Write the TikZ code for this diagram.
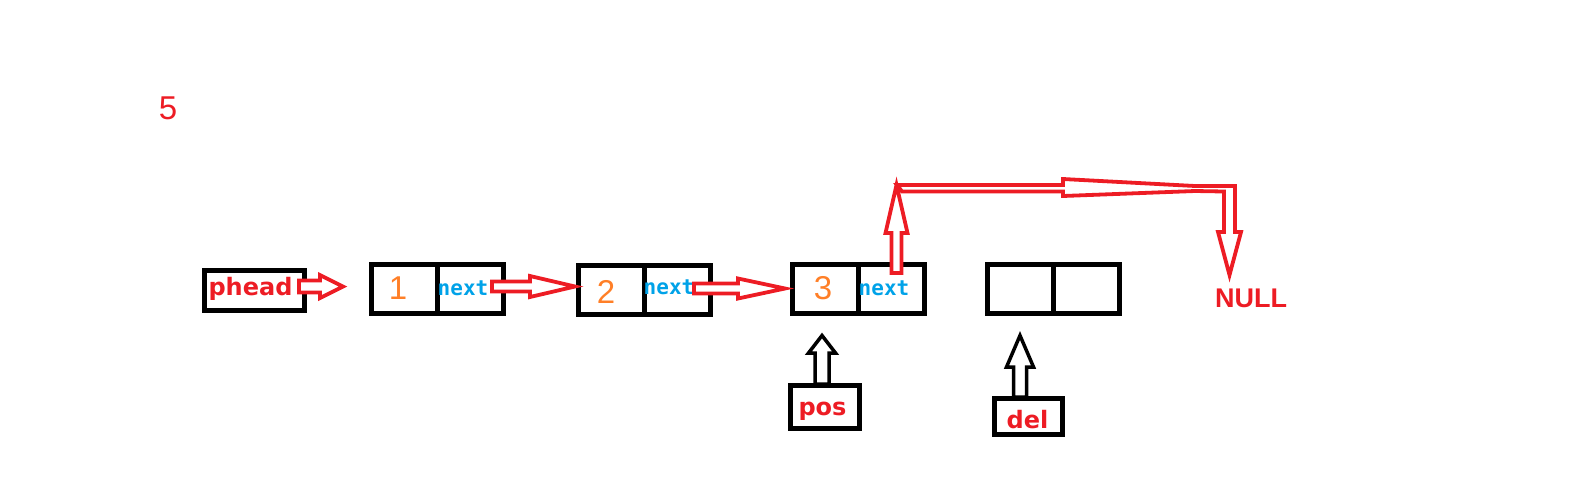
\documentclass[tikz,border=0pt]{standalone}
\usepackage{fontspec}
\newfontfamily\djv{DejaVu Sans}
\newfontfamily\djm{DejaVu Sans Mono}
\newfontfamily\lib{Liberation Sans}
\definecolor{pred}{RGB}{237,28,36}
\definecolor{porange}{RGB}{255,127,39}
\definecolor{pblue}{RGB}{0,162,232}
\tikzset{
  cell/.style={draw=black,line width=2.5pt,minimum width=33pt,minimum height=24.5pt,inner sep=0pt},
  ptrbox/.style={draw=black,line width=2.5pt,inner sep=0pt},
  lbl/.style={text=pred,font=\djv\bfseries\fontsize{12pt}{14pt}\selectfont,anchor=base,inner sep=0pt},
  num/.style={text=porange,font=\lib\fontsize{16.5pt}{18pt}\selectfont,anchor=base,inner sep=0pt},
  nxt/.style={text=pblue,font=\djm\bfseries\fontsize{10.5pt}{12pt}\selectfont,anchor=base,inner sep=0pt},
  nulltxt/.style={text=pred,font=\lib\bfseries\fontsize{13.5pt}{15pt}\selectfont,anchor=base,inner sep=0pt},
  rarr/.style={draw=pred,fill=white,line width=1.9pt,line join=miter},
  barr/.style={draw=black,fill=white,line width=1.75pt,line join=miter}
}
% right-pointing hollow arrow: x0, xbase, xtip, y, h, H
\newcommand\myrarrow[7]{\draw[#1] (#2,#5-#6) -- (#3,#5-#6) -- (#3,#5-#7) -- (#4,#5) -- (#3,#5+#7) -- (#3,#5+#6) -- (#2,#5+#6) -- cycle;}
% up-pointing hollow arrow: x, ybottom, ybase, ytip, h, H
\newcommand\myuarrow[7]{\draw[#1] (#2-#6,#3) -- (#2-#6,#4) -- (#2-#7,#4) -- (#2,#5) -- (#2+#7,#4) -- (#2+#6,#4) -- (#2+#6,#3) -- cycle;}
\begin{document}
\begin{tikzpicture}[x=0.5pt,y=-0.5pt]
\useasboundingbox (0,0) rectangle (1588,499);
% list nodes
\node[cell] (a1) at (404,289) {};
\node[cell] (b1) at (470,289) {};
\node[cell] (a2) at (611,289.5) {};
\node[cell] (b2) at (677,289.5) {};
\node[cell] (a3) at (825,289) {};
\node[cell] (b3) at (891,289) {};
\node[cell] (a4) at (1020,289) {};
\node[cell] (b4) at (1086,289) {};
% pointer boxes
\node[ptrbox,minimum width=50pt,minimum height=20pt] (pheadbox) at (254.5,290.5) {};
\node[ptrbox,minimum width=34.5pt,minimum height=21.5pt] (posbox) at (825,407) {};
\node[ptrbox,minimum width=34pt,minimum height=18pt] (delbox) at (1028.5,416.5) {};
% texts
\node[num,text=pred] (five) at (168,119) {5};
\node[lbl] (phead) at (250.5,295) {phead};
\node[num] (v1) at (398,299) {1};
\node[num] (v2) at (606,303) {2};
\node[num] (v3) at (823,299) {3};
\node[nxt] (x1) at (463,295) {next};
\node[nxt] (x2) at (669,294) {next};
\node[nxt] (x3) at (884,295) {next};
\node[lbl] (pos) at (822.5,415) {pos};
\node[lbl] (del) at (1027.5,428) {del};
\node[nulltxt] (null) at (1251,307) {NULL};
% red hollow arrows
\myrarrow{rarr}{299}{320}{343}{286.5}{6}{11.5}
\myrarrow{rarr}{492}{530}{575}{286.5}{5}{10.5}
\myrarrow{rarr}{694}{738}{785}{288.5}{5}{10}
\myuarrow{rarr}{896.5}{273}{233}{185}{5}{11}
\draw[rarr] (897,185) -- (1063,185) -- (1063,179) -- (1195,186) -- (1235,186) -- (1235,232) -- (1241,232) -- (1229.5,275) -- (1218,232) -- (1224,232) -- (1224,191.5) -- (1195,191) -- (1063,196) -- (1063,191.5) -- (902,191.5) -- cycle;
% black hollow arrows
\myuarrow{barr}{822}{384}{353}{335.5}{7}{13.5}
\myuarrow{barr}{1020}{397}{367}{335.5}{6.5}{13.5}
\end{tikzpicture}
\end{document}
